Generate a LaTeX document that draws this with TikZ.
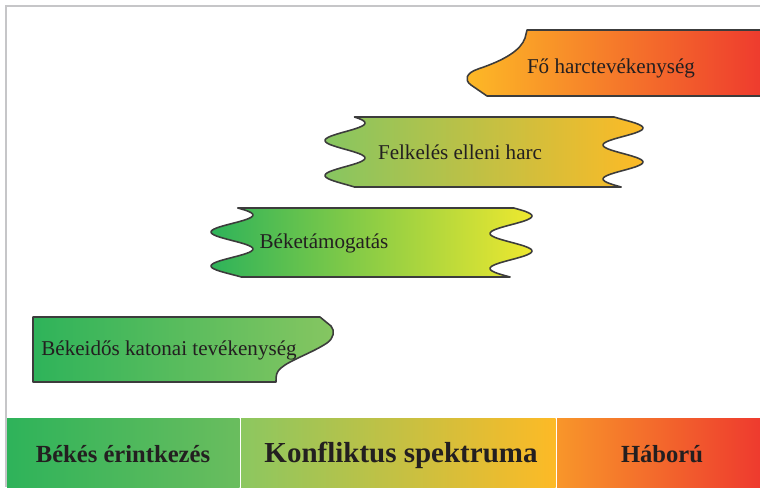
\documentclass[tikz,border=0pt]{standalone}
\usepackage{fontspec}
\setmainfont{Liberation Serif}

\definecolor{ink}{HTML}{231F20}
\definecolor{edgegray}{HTML}{3C3C3C}
\definecolor{framegray}{HTML}{C6C6C8}
\definecolor{peacegreen}{HTML}{2EB35A}
\definecolor{softgreen}{HTML}{6ABD5E}
\definecolor{lightgreen}{HTML}{86C661}
\definecolor{midgreen}{HTML}{8CC760}
\definecolor{olive}{HTML}{C4C746}
\definecolor{paleolive}{HTML}{A8D05A}
\definecolor{warmyellow}{HTML}{FDBA26}
\definecolor{lemon}{HTML}{EEE82F}
\definecolor{warorange}{HTML}{F8962A}
\definecolor{warred}{HTML}{EE3A2E}

\begin{document}
\begin{tikzpicture}[x=0.02cm,y=-0.02cm,
  band/.style={draw=edgegray,line width=0.9pt,line join=round},
  lbl/.style={text=ink,font=\fontsize{12}{14}\selectfont,inner sep=0pt,anchor=base},
  spec/.style={text=ink,font=\bfseries\fontsize{14}{16}\selectfont,inner sep=0pt,anchor=base}]
\useasboundingbox (0,0) rectangle (760,487);

% frame
\draw[framegray,line width=1pt] (6,487) -- (6,6) -- (761,6);

% spectrum bar
\shade[left color=peacegreen,right color=softgreen] (7,418) rectangle (239.5,488);
\shade[left color=midgreen,middle color=olive,right color=warmyellow] (241,418) rectangle (555.5,488);
\shade[left color=warorange,right color=warred] (557,418) rectangle (761,488);
\node[spec] (bekes) at (123,462) {Békés érintkezés};
\node[spec,font=\bfseries\fontsize{16.5}{18}\selectfont] (konf) at (401,462) {Konfliktus spektruma};
\node[spec] (hab) at (662,462) {Háború};

% Fo harctevekenyseg
\shadedraw[band,left color=warmyellow,right color=warred]
  (527,30) -- (764,30) -- (764,96) -- (487,96) -- (471,85)
  .. controls (464,80) and (466,73) .. (478,69)
  .. controls (505,60) and (521,50) .. (525,38) -- cycle;
\node[lbl] (fo) at (611,73) {Fő harctevékenység};

% Felkeles elleni harc
\shadedraw[band,left color=lightgreen!90!midgreen,right color=warmyellow]
  plot[domain=117:187,samples=60] ({623+20*cos(360/34*(\x-128))},\x)
  -- plot[domain=187:117,samples=60] ({345+20*cos(360/35*(\x-123))},\x) -- cycle;
\node[lbl] (felk) at (460,159) {Felkelés elleni harc};

% Beketamogatas
\shadedraw[band,left color=peacegreen,middle color=paleolive,right color=lemon]
  plot[domain=208:277,samples=60] ({511+21*cos(360/35*(\x-216))},\x)
  -- plot[domain=277:208,samples=60] ({232+21*cos(360/34*(\x-215))},\x) -- cycle;
\node[lbl] (beke) at (324,248) {Béketámogatás};

% Bekeidos katonai tevekenyseg
\shadedraw[band,left color=peacegreen,right color=lightgreen]
  (33,317) -- (320,317) -- (331,326)
  .. controls (335,331) and (334,338) .. (327,343)
  .. controls (312,353) and (290,360) .. (281,368)
  .. controls (276,372) and (276,376) .. (276,382) -- (33,382) -- cycle;
\node[lbl] (bkat) at (169,355) {Békeidős katonai tevékenység};
\end{tikzpicture}
\end{document}
